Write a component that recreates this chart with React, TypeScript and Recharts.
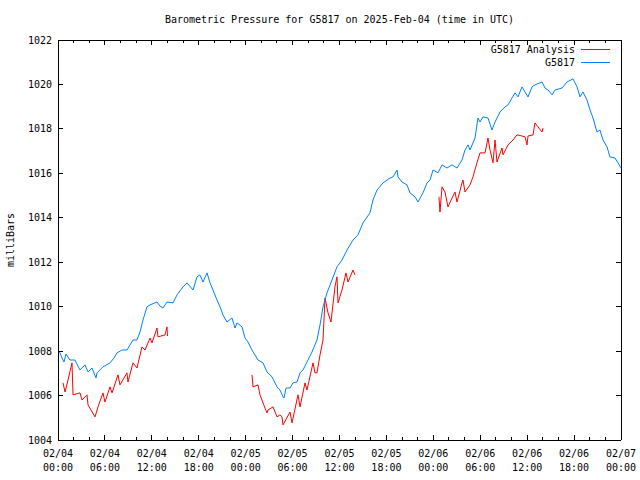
import { LineChart, Line, XAxis, YAxis, Legend } from "recharts";

// ─── Data (hours since 2025-02-04 00:00 UTC, pressure in mbar) ────────────────

const stationHours = [
  0, 0.26, 0.51, 0.77, 1.02, 1.53, 2.17, 2.81, 3.45, 3.84, 4.35, 4.86, 4.99, 5.75, 6.65, 7.16, 7.55,
  8.18, 8.82, 9.59, 10.1, 10.49, 10.87, 11.38, 11.77, 12.66, 13.04, 13.43, 13.94, 14.71, 15.22, 15.99,
  16.5, 17.27, 17.78, 18.16, 18.54, 19.06, 19.44, 19.82, 20.33, 20.72, 21.1, 21.61, 22.25, 22.64, 22.89,
  23.53, 23.92, 24.3, 24.81, 25.58, 26.22, 26.73, 27.37, 28.01, 28.39, 28.78, 28.9, 29.16, 29.67, 30.05,
  30.57, 30.95, 31.33, 31.84, 32.48, 33.12, 33.51, 33.89, 34.4, 35.04, 35.68, 36.32, 36.96, 37.73, 38.37,
  39.0, 39.9, 40.28, 40.8, 41.57, 42.08, 42.46, 42.84, 43.36, 43.48, 43.99, 44.63, 45.02, 45.66, 46.04,
  46.68, 47.19, 47.58, 47.96, 48.6, 49.11, 49.75, 50.39, 51.03, 51.67, 52.05, 52.44, 52.69, 53.33, 53.71,
  53.97, 54.35, 54.99, 55.5, 55.89, 56.53, 57.17, 57.55, 58.06, 58.45, 58.83, 59.34, 59.73, 60.11, 60.62,
  61.0, 61.9, 62.28, 62.67, 63.18, 63.56, 64.46, 65.1, 65.86, 66.38, 66.76, 67.14, 67.65, 68.04, 68.42,
  68.93, 69.31, 69.7, 70.21, 70.59, 71.23, 71.62, 72.0,
];
const stationPressure = [
  1007.96, 1007.92, 1007.69, 1007.51, 1007.87, 1007.6, 1007.6, 1007.15, 1007.38, 1007.06, 1007.24,
  1006.79, 1007.02, 1007.29, 1007.47, 1007.69, 1007.92, 1008.05, 1008.05, 1008.5, 1008.5, 1008.86,
  1009.4, 1009.99, 1010.08, 1010.21, 1010.03, 1009.94, 1010.21, 1010.17, 1010.53, 1010.89, 1011.07,
  1010.75, 1011.34, 1011.43, 1011.11, 1011.52, 1011.07, 1010.75, 1010.3, 1009.99, 1009.63, 1009.31,
  1009.49, 1009.04, 1009.27, 1009.09, 1008.59, 1008.41, 1008.05, 1007.6, 1007.47, 1007.06, 1006.84,
  1006.39, 1006.25, 1005.94, 1005.89, 1006.34, 1006.34, 1006.57, 1006.61, 1007.02, 1007.15, 1007.51,
  1007.96, 1008.5, 1009.18, 1009.99, 1010.62, 1011.2, 1011.79, 1012.1, 1012.55, 1013.0, 1013.23,
  1013.77, 1014.22, 1014.8, 1015.25, 1015.57, 1015.7, 1015.79, 1015.84, 1016.15, 1015.84, 1015.61,
  1015.48, 1015.12, 1014.94, 1014.71, 1015.12, 1015.57, 1015.7, 1016.15, 1016.02, 1016.38, 1016.24,
  1016.38, 1016.24, 1016.6, 1017.05, 1017.28, 1017.05, 1017.59, 1018.49, 1018.31, 1018.54, 1018.49,
  1017.95, 1018.31, 1018.76, 1018.99, 1019.08, 1019.39, 1019.62, 1019.44, 1019.89, 1019.66, 1019.44,
  1019.89, 1019.98, 1020.11, 1019.84, 1019.75, 1019.53, 1019.75, 1019.84, 1020.11, 1020.25, 1019.89,
  1019.44, 1019.66, 1019.3, 1018.85, 1018.49, 1017.86, 1017.95, 1017.5, 1017.19, 1016.74, 1016.69,
  1016.47, 1016.24,
];

// analysis runs come in three separate stretches
const analysisHoursA = [
  0.64, 0.9, 1.28, 1.79, 1.92, 2.81, 3.07, 3.71, 3.84, 4.73, 5.12, 5.75, 6.01, 6.65, 6.91, 7.67, 7.93,
  8.82, 8.95, 9.59, 10.1, 10.74, 11.13, 11.77, 12.02, 12.66, 12.79, 13.68, 13.94, 14.0,
];
const analysisPressureA = [
  1006.57, 1006.16, 1006.7, 1007.47, 1006.03, 1006.12, 1005.8, 1006.03, 1005.58, 1005.04, 1005.49,
  1006.12, 1005.71, 1006.39, 1006.12, 1006.93, 1006.48, 1007.02, 1006.61, 1007.47, 1007.24, 1008.19,
  1008.05, 1008.59, 1008.37, 1009.04, 1008.64, 1008.73, 1009.09, 1008.68,
];
const analysisHoursB = [
  24.81, 24.94, 25.58, 25.83, 26.47, 26.73, 26.86, 27.5, 28.01, 28.39, 28.65, 28.78, 29.67, 29.93,
  30.69, 30.95, 31.59, 31.84, 32.61, 32.87, 33.12, 33.51, 33.89, 34.15, 34.53, 34.91, 35.42, 35.68,
  35.81, 36.32, 36.83, 37.09, 37.73, 37.98,
];
const analysisPressureB = [
  1006.93, 1006.39, 1006.48, 1006.03, 1005.44, 1005.22, 1005.35, 1005.49, 1005.04, 1005.13, 1005.04,
  1004.68, 1005.26, 1004.77, 1006.03, 1005.49, 1006.57, 1006.25, 1007.47, 1007.02, 1007.02, 1007.83,
  1008.5, 1010.39, 1009.72, 1009.31, 1010.89, 1011.34, 1010.17, 1010.75, 1011.52, 1011.11, 1011.65,
  1011.43,
];
const analysisHoursC = [
  48.72, 48.85, 49.11, 49.49, 49.87, 50.39, 50.77, 51.03, 51.67, 51.79, 52.05, 52.69, 53.07, 53.58,
  53.97, 54.61, 54.99, 55.25, 55.63, 55.89, 56.14, 56.78, 56.91, 57.55, 58.19, 58.7, 59.34, 59.73,
  59.98, 60.11, 60.75, 61.0, 61.38, 61.9, 62.03,
];
const analysisPressureC = [
  1014.94, 1014.26, 1015.39, 1015.16, 1014.49, 1014.89, 1015.16, 1014.71, 1015.57, 1015.7, 1015.16,
  1015.48, 1015.84, 1016.47, 1016.92, 1016.92, 1017.59, 1017.05, 1016.47, 1017.5, 1016.51, 1017.14,
  1016.83, 1017.28, 1017.5, 1017.73, 1017.68, 1017.64, 1017.28, 1017.68, 1017.73, 1018.27, 1018.09,
  1017.86, 1018.04,
];

const majorTickHours = [0, 6, 12, 18, 24, 30, 36, 42, 48, 54, 60, 66, 72];
const tickDates = ["02/04", "02/04", "02/04", "02/04", "02/05", "02/05", "02/05", "02/05", "02/06", "02/06", "02/06", "02/06", "02/07"];
const tickTimes = ["00:00", "06:00", "12:00", "18:00", "00:00", "06:00", "12:00", "18:00", "00:00", "06:00", "12:00", "18:00", "00:00"];
const allTickHours = [
  0, 2, 4, 6, 8, 10, 12, 14, 16, 18, 20, 22, 24, 26, 28, 30, 32, 34, 36, 38, 40, 42, 44, 46, 48, 50,
  52, 54, 56, 58, 60, 62, 64, 66, 68, 70, 72,
];
const pressureTicks = [1004, 1006, 1008, 1010, 1012, 1014, 1016, 1018, 1020, 1022];

const TITLE = "Barometric Pressure for G5817 on 2025-Feb-04 (time in UTC)";
const ANALYSIS_COLOR = "#ff0000";
const STATION_COLOR = "#0080ff";
const FONT = "'DejaVu Sans Mono', monospace";

const toRows = (hours: number[], vals: number[]) => hours.map((h, i) => ({ h, p: vals[i] }));

const stationData = toRows(stationHours, stationPressure);
const analysisSegments = [
  toRows(analysisHoursA, analysisPressureA),
  toRows(analysisHoursB, analysisPressureB),
  toRows(analysisHoursC, analysisPressureC),
];

// ─── Ticks (gnuplot style: drawn inward, mirrored on top/right) ──────────────

function HourTick(props: any) {
  const { x, y, payload, side } = props;
  const idx = majorTickHours.indexOf(payload.value);
  const len = idx >= 0 ? 5 : 3;
  const dir = side === "top" ? 1 : -1;
  return (
    <g>
      <line x1={x} x2={x} y1={y} y2={y + dir * len} stroke="#000" shapeRendering="crispEdges" />
      {side === "bottom" && idx >= 0 && (
        <text x={x} y={y} textAnchor="middle" fontFamily={FONT} fontSize={10} fill="#000">
          <tspan x={x} dy={17}>{tickDates[idx]}</tspan>
          <tspan x={x} dy={14}>{tickTimes[idx]}</tspan>
        </text>
      )}
    </g>
  );
}

function PressureTick(props: any) {
  const { x, y, payload, side } = props;
  const dir = side === "right" ? -1 : 1;
  return (
    <g>
      <line x1={x} x2={x + dir * 5} y1={y} y2={y} stroke="#000" shapeRendering="crispEdges" />
      {side === "left" && (
        <text x={x - 6} y={y + 3.5} textAnchor="end" fontFamily={FONT} fontSize={10} fill="#000">
          {payload.value}
        </text>
      )}
    </g>
  );
}

function TitleLabel(props: any) {
  const { viewBox } = props;
  return (
    <text x={viewBox.x + viewBox.width / 2} y={23} textAnchor="middle" fontFamily={FONT} fontSize={10} fill="#000">
      {TITLE}
    </text>
  );
}

function UnitLabel(props: any) {
  const { viewBox } = props;
  const cy = viewBox.y + viewBox.height / 2;
  return (
    <text x={14} y={cy} transform={`rotate(-90 14 ${cy})`} textAnchor="middle" fontFamily={FONT} fontSize={10} fill="#000">
      milliBars
    </text>
  );
}

function KeyBox() {
  const entries = [
    { label: "G5817 Analysis", color: ANALYSIS_COLOR },
    { label: "G5817", color: STATION_COLOR },
  ];
  return (
    <div style={{ fontFamily: FONT, fontSize: 10, color: "#000" }}>
      {entries.map(e => (
        <div key={e.label} style={{ display: "flex", justifyContent: "flex-end", alignItems: "center", height: 13 }}>
          <span>{e.label}</span>
          <svg width={29} height={13} style={{ marginLeft: 6, display: "block" }}>
            <line x1={0} x2={29} y1={6.5} y2={6.5} stroke={e.color} strokeWidth={1} />
          </svg>
        </div>
      ))}
    </div>
  );
}

// ─── Chart ────────────────────────────────────────────────────────────────────

export default function App() {
  const axisLine = { stroke: "#000", shapeRendering: "crispEdges" };
  return (
    <div style={{ position: "absolute", left: 0, top: 0, width: 640, height: 480, background: "#fff" }}>
      <LineChart width={640} height={480} margin={{ top: 39, right: 18, left: 0, bottom: 0 }}>
        <XAxis
          dataKey="h"
          type="number"
          domain={[0, 72]}
          ticks={allTickHours}
          interval={0}
          height={40}
          tickSize={0}
          tickMargin={0}
          axisLine={axisLine}
          tickLine={false}
          tick={<HourTick side="bottom" />}
          allowDataOverflow
        />
        <XAxis
          xAxisId="top"
          dataKey="h"
          orientation="top"
          type="number"
          domain={[0, 72]}
          ticks={allTickHours}
          interval={0}
          height={1}
          tickSize={0}
          tickMargin={0}
          axisLine={axisLine}
          tickLine={false}
          tick={<HourTick side="top" />}
          label={<TitleLabel />}
          allowDataOverflow
        />
        <YAxis
          type="number"
          domain={[1004, 1022]}
          ticks={pressureTicks}
          interval={0}
          width={58}
          tickSize={0}
          tickMargin={0}
          axisLine={axisLine}
          tickLine={false}
          tick={<PressureTick side="left" />}
          label={<UnitLabel />}
          allowDataOverflow
        />
        <YAxis
          yAxisId="right"
          orientation="right"
          type="number"
          domain={[1004, 1022]}
          ticks={pressureTicks}
          interval={0}
          width={1}
          tickSize={0}
          tickMargin={0}
          axisLine={axisLine}
          tickLine={false}
          tick={<PressureTick side="right" />}
          allowDataOverflow
        />
        <Legend
          layout="vertical"
          align="center"
          verticalAlign="middle"
          content={<KeyBox />}
          wrapperStyle={{ top: 42.5, left: 400, width: 210 }}
        />
        {/* invisible series so the mirrored top/right frame axes get drawn */}
        <Line
          xAxisId="top"
          yAxisId="right"
          data={stationData}
          dataKey="p"
          stroke="none"
          dot={false}
          activeDot={false}
          legendType="none"
          isAnimationActive={false}
        />
        {analysisSegments.map((seg, i) => (
          <Line
            key={i}
            data={seg}
            dataKey="p"
            type="linear"
            stroke={ANALYSIS_COLOR}
            strokeWidth={1}
            dot={false}
            activeDot={false}
            isAnimationActive={false}
          />
        ))}
        <Line
          data={stationData}
          dataKey="p"
          type="linear"
          stroke={STATION_COLOR}
          strokeWidth={1}
          dot={false}
          activeDot={false}
          isAnimationActive={false}
        />
      </LineChart>
    </div>
  );
}
